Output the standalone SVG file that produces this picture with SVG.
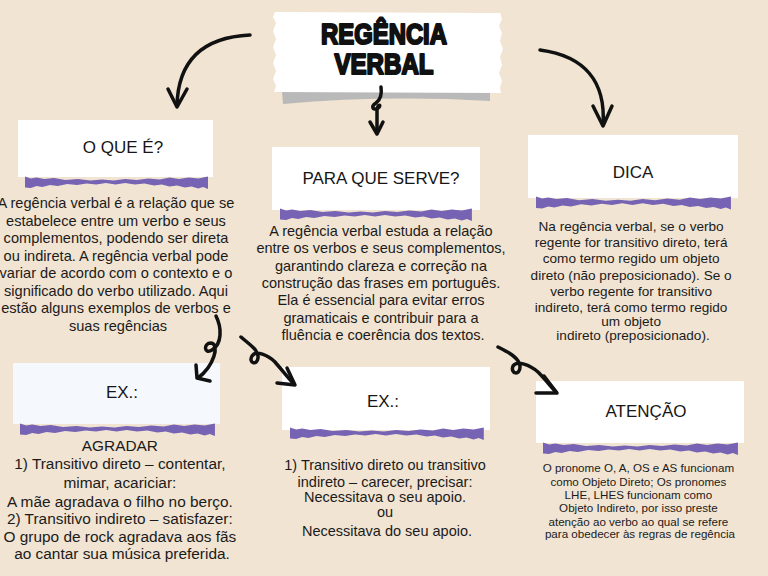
<svg xmlns="http://www.w3.org/2000/svg" xmlns:xlink="http://www.w3.org/1999/xlink" width="768" height="576" viewBox="0 0 768 576">
<style>
.bg{fill:#F1E4D2}
.card{fill:#FFFFFF}
.strip{fill:#7763B3}
.hd{font-family:"Liberation Sans",Arial,sans-serif;font-size:17px;fill:#161616;text-anchor:middle}
.tx{font-family:"Liberation Sans",Arial,sans-serif;fill:#1b1b1b;text-anchor:middle}
.title{font-family:"Liberation Sans",Arial,sans-serif;font-weight:bold;font-size:30px;fill:#111;stroke:#111;stroke-width:2.2;stroke-linejoin:round;text-anchor:middle}
.ln{fill:none;stroke:#111;stroke-width:3.5;stroke-linecap:round;stroke-linejoin:round}
</style>
<defs>
<path id="strip" fill="#7763B3" d="M0,-0.5 L6,1.5 L12,0.5 L20,2 L30,1 L42,3 L55,2 L68,3.5 L80,2.5 L92,3.5 L104,2 L116,3 L128,1.5 L140,2.5 L150,0.5 L160,2 L170,0.5 L180,1.5 L190,-0.5 L190,12 L185,10 L180,11.5 L173,9.5 L166,10.5 L158,8.5 L150,9.5 L142,7.5 L134,8.5 L124,6.5 L114,7.5 L104,6 L94,7.5 L84,6 L74,7.5 L64,6.5 L54,8 L44,7 L34,9 L26,8 L18,10 L12,9 L6,11 L0,10.5 Z"/>
</defs>
<rect class="bg" x="0" y="0" width="768" height="576"/>

<g id="title">
<path d="M282,91 L490,91 L490,101 Q385,95 283,104 Z" fill="#B9B9B9"/>
<path class="card" d="M275,12 L500,13 L502,19 L499,26 L502,33 L500,41 L503,49 L500,57 L502,65 L499,73 L502,81 L500,88 L501,93 L274,92 L276,86 L273,79 L276,71 L273,63 L276,55 L273,47 L276,39 L273,31 L276,23 L273,17 Z"/>
<text class="title" x="384" y="44" textLength="126" lengthAdjust="spacingAndGlyphs">REGÊNCIA</text>
<text class="title" x="384" y="74" textLength="99" lengthAdjust="spacingAndGlyphs">VERBAL</text>
</g>

<g id="oque">
<rect class="card" x="18" y="120" width="195" height="57"/>
<use class="strip" xlink:href="#strip" transform="translate(25,177) scale(0.963,1)"/>
<text class="hd" x="123" y="153">O QUE É?</text>
<text class="tx" font-size="14.6">
<tspan x="118" y="208">A regência verbal é a relação que se</tspan>
<tspan x="118" y="225.5">estabelece entre um verbo e seus</tspan>
<tspan x="118" y="243">complementos, podendo ser direta</tspan>
<tspan x="118" y="260.5">ou indireta. A regência verbal pode</tspan>
<tspan x="118" y="278">variar de acordo com o contexto e o</tspan>
<tspan x="118" y="295.5">significado do verbo utilizado. Aqui</tspan>
<tspan x="118" y="313">estão alguns exemplos de verbos e</tspan>
<tspan x="118" y="330.5">suas regências</tspan>
</text>
</g>

<g id="paraque">
<rect class="card" x="272" y="147" width="208" height="63"/>
<use class="strip" xlink:href="#strip" transform="translate(280,209) scale(1.01,1)"/>
<text class="hd" x="381" y="184">PARA QUE SERVE?</text>
<text class="tx" font-size="14.5">
<tspan x="383" y="236">A regência verbal estuda a relação</tspan>
<tspan x="383" y="253.3">entre os verbos e seus complementos,</tspan>
<tspan x="383" y="270.6">garantindo clareza e correção na</tspan>
<tspan x="383" y="288">construção das frases em português.</tspan>
<tspan x="383" y="305.3">Ela é essencial para evitar erros</tspan>
<tspan x="383" y="322.6">gramaticais e contribuir para a</tspan>
<tspan x="383" y="340">fluência e coerência dos textos.</tspan>
</text>
</g>

<g id="dica">
<rect class="card" x="528" y="135" width="210" height="63"/>
<use class="strip" xlink:href="#strip" transform="translate(536,197) scale(1.026,1.05)"/>
<text class="hd" x="633" y="178">DICA</text>
<text class="tx" font-size="13.6">
<tspan x="633" y="231">Na regência verbal, se o verbo</tspan>
<tspan x="633" y="247">regente for transitivo direto, terá</tspan>
<tspan x="633" y="263">como termo regido um objeto</tspan>
<tspan x="633" y="279.5">direto (não preposicionado). Se o</tspan>
<tspan x="633" y="296">verbo regente for transitivo</tspan>
<tspan x="633" y="311.5">indireto, terá como termo regido</tspan>
<tspan x="633" y="325.5">um objeto</tspan>
<tspan x="633" y="339.5">indireto (preposicionado).</tspan>
</text>
</g>

<g id="ex1">
<rect x="13" y="363" width="207" height="61" fill="#F5F9FD"/>
<use class="strip" xlink:href="#strip" transform="translate(20,424) scale(1.026,1)"/>
<text class="hd" x="122" y="398">EX.:</text>
<text class="tx" font-size="15.4">
<tspan x="122" y="451">AGRADAR</tspan>
<tspan x="122" y="469">1) Transitivo direto – contentar,</tspan>
<tspan x="122" y="488">mimar, acariciar:</tspan>
<tspan x="122" y="507">A mãe agradava o filho no berço.</tspan>
<tspan x="122" y="524">2) Transitivo indireto – satisfazer:</tspan>
<tspan x="122" y="542">O grupo de rock agradava aos fãs</tspan>
<tspan x="122" y="559">ao cantar sua música preferida.</tspan>
</text>
</g>

<g id="ex2">
<rect class="card" x="282" y="367" width="208" height="63"/>
<use class="strip" xlink:href="#strip" transform="translate(290,428) scale(1.02,1)"/>
<text class="hd" x="383" y="407">EX.:</text>
<text class="tx" font-size="14.5">
<tspan x="387" y="470">1) Transitivo direto ou transitivo</tspan>
<tspan x="387" y="486.5">indireto – carecer, precisar:</tspan>
<tspan x="387" y="502">Necessitava o seu apoio.</tspan>
<tspan x="387" y="517">ou</tspan>
<tspan x="387" y="536">Necessitava do seu apoio.</tspan>
</text>
</g>

<g id="atencao">
<rect class="card" x="536" y="381" width="208" height="62"/>
<use class="strip" xlink:href="#strip" transform="translate(543,443) scale(1.026,1)"/>
<text class="hd" x="646" y="417">ATENÇÃO</text>
<text class="tx" font-size="11.6">
<tspan x="640" y="472">O pronome O, A, OS e AS funcionam</tspan>
<tspan x="640" y="485.5">como Objeto Direto; Os pronomes</tspan>
<tspan x="640" y="498.5">LHE, LHES funcionam como</tspan>
<tspan x="640" y="512">Objeto Indireto, por isso preste</tspan>
<tspan x="640" y="525.5">atenção ao verbo ao qual se refere</tspan>
<tspan x="640" y="538">para obedecer às regras de regência</tspan>
</text>
</g>

<g id="connectors">
<path class="ln" d="M250,35 C208,37 178,56 177,106"/>
<path class="ln" d="M168,89 L177,107 L187,89"/>
<path class="ln" d="M540,50 C585,56 606,82 603,125"/>
<path class="ln" d="M593,106 L603,126 L612,106"/>
<path class="ln" d="M381,87 C382,94 380,100 376,103 C371,106 372,111 378,108 C382,105 378,103 377,110 L377,133"/>
<path class="ln" d="M370,122 L377,134 L383,122"/>
<path class="ln" d="M216,316 C222,328 222,344 212,350 C204,355 203,343 211,343 C220,344 214,366 198,378"/>
<path class="ln" d="M196,365 L197,378 L210,381"/>
<path class="ln" d="M241,337 C250,345 259,350 258,358 C257,366 248,363 252,356 C256,350 268,355 275,362 C282,370 288,378 294,384"/>
<path class="ln" d="M287,368 L295,385 L277,383"/>
<path class="ln" d="M498,347 C508,352 520,358 520,367 C520,376 510,374 513,366 C517,360 530,365 538,372 C546,380 551,387 556,392"/>
<path class="ln" d="M544,376 L557,393 L536,393"/>
</g>
</svg>
